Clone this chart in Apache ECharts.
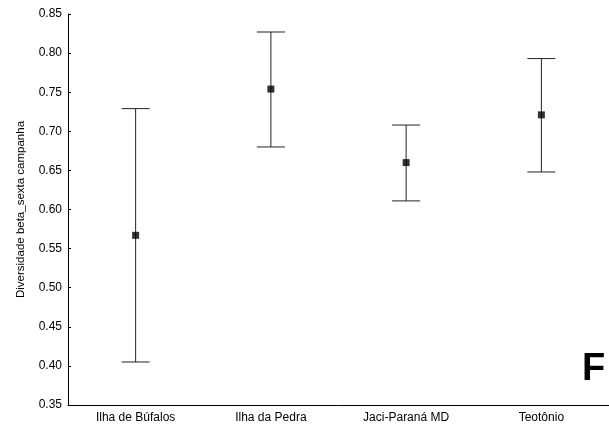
<!DOCTYPE html>
<html><head><meta charset="utf-8">
<script src="https://cdn.jsdelivr.net/npm/echarts@6/dist/echarts.min.js"></script>
<style>html,body{margin:0;padding:0;background:#fff}#c{width:609px;height:429px}</style>
</head><body><div id="c"></div>
<script>
var categories = ['Ilha de Búfalos', 'Ilha da Pedra', 'Jaci-Paraná MD', 'Teotônio'];
var means = [0.567, 0.754, 0.660, 0.721];
var lowers = [0.405, 0.680, 0.611, 0.648];
var uppers = [0.729, 0.827, 0.708, 0.793];
var yTicks = { min: 0.35, max: 0.85, step: 0.05 };
var yName = 'Diversidade beta_sexta campanha';
var panelLetter = 'F';

var errData = categories.map(function (c, i) { return [i, lowers[i], uppers[i]]; });
var font = 'Liberation Sans, Arial, sans-serif';
var chart = echarts.init(document.getElementById('c'), null, { renderer: 'canvas' });
chart.setOption({
  animation: false,
  grid: { left: 68, right: 0, top: 14, bottom: 24 },
  xAxis: {
    type: 'category', data: categories, boundaryGap: true,
    axisLine: { lineStyle: { color: '#000', width: 1 } },
    axisTick: { inside: true, length: 3, alignWithLabel: true, lineStyle: { color: '#000' } },
    axisLabel: { color: '#000', fontSize: 12, fontFamily: font, margin: 7 },
    splitLine: { show: false }
  },
  yAxis: {
    type: 'value', min: yTicks.min, max: yTicks.max, interval: yTicks.step,
    name: yName, nameLocation: 'middle', nameGap: 41,
    nameTextStyle: { color: '#000', fontSize: 11.5, fontFamily: font },
    axisLine: { show: true, lineStyle: { color: '#000', width: 1 } },
    axisTick: { show: true, inside: true, length: 3, lineStyle: { color: '#000' } },
    axisLabel: { color: '#000', fontSize: 12, fontFamily: font, margin: 6,
      formatter: function (v) { return v.toFixed(2); } },
    splitLine: { show: false }
  },
  series: [
    {
      type: 'custom', data: errData,
      renderItem: function (params, api) {
        var x = api.value(0);
        var lo = api.coord([x, api.value(1)]);
        var hi = api.coord([x, api.value(2)]);
        var hw = 14;
        var st = { stroke: '#222', lineWidth: 1 };
        return { type: 'group', children: [
          { type: 'line', shape: { x1: lo[0], y1: lo[1], x2: hi[0], y2: hi[1] }, style: st },
          { type: 'line', shape: { x1: lo[0] - hw, y1: lo[1], x2: lo[0] + hw, y2: lo[1] }, style: st },
          { type: 'line', shape: { x1: hi[0] - hw, y1: hi[1], x2: hi[0] + hw, y2: hi[1] }, style: st }
        ]};
      },
      z: 2
    },
    {
      type: 'scatter', data: means, symbol: 'rect', symbolSize: 7,
      itemStyle: { color: '#000' }, z: 3
    }
  ],
  graphic: [{
    type: 'text', left: 582, top: 351,
    style: { text: panelLetter, fill: '#000', font: 'bold 38px Liberation Sans, Arial, sans-serif' }
  }]
});
</script></body></html>
